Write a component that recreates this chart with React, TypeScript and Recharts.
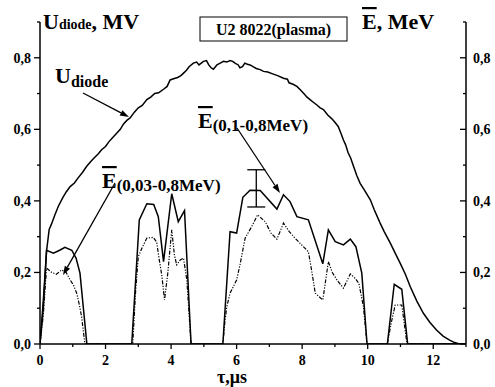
import React from "react";
import { ComposedChart, Line, Scatter, ErrorBar, XAxis, YAxis } from "recharts";

// U_diode, MV (left axis)
const uDiodeT = [0, 0.1, 0.2, 0.28, 0.35, 0.45, 0.56, 0.7, 0.8, 0.92, 1.05, 1.17, 1.3, 1.42, 1.55, 1.65, 1.78, 1.88, 2.0, 2.1, 2.22, 2.34, 2.45, 2.55, 2.65, 2.75, 2.88, 3.0, 3.12, 3.26, 3.38, 3.5, 3.62, 3.77, 3.88, 3.97, 4.1, 4.2, 4.3, 4.38, 4.47, 4.55, 4.68, 4.78, 4.85, 4.99, 5.08, 5.15, 5.22, 5.29, 5.4, 5.5, 5.6, 5.7, 5.8, 5.88, 5.95, 6.05, 6.1, 6.18, 6.25, 6.33, 6.41, 6.5, 6.6, 6.72, 6.82, 6.95, 7.1, 7.25, 7.43, 7.55, 7.6, 7.72, 7.84, 7.95, 8.05, 8.15, 8.24, 8.35, 8.45, 8.55, 8.65, 8.78, 8.9, 9.0, 9.1, 9.18, 9.26, 9.33, 9.4, 9.48, 9.57, 9.67, 9.77, 9.9, 10.08, 10.2, 10.38, 10.5, 10.69, 10.85, 10.99, 11.15, 11.3, 11.5, 11.7, 11.9, 12.1, 12.3, 12.5, 12.65, 12.8];
const uDiodeV = [0, 0.12, 0.26, 0.32, 0.335, 0.36, 0.385, 0.41, 0.425, 0.44, 0.45, 0.465, 0.48, 0.496, 0.51, 0.52, 0.532, 0.543, 0.552, 0.565, 0.577, 0.589, 0.6, 0.615, 0.625, 0.632, 0.648, 0.66, 0.667, 0.683, 0.69, 0.7, 0.702, 0.712, 0.72, 0.738, 0.742, 0.745, 0.75, 0.757, 0.765, 0.775, 0.785, 0.788, 0.78, 0.79, 0.792, 0.78, 0.772, 0.768, 0.78, 0.785, 0.79, 0.788, 0.792, 0.79, 0.785, 0.78, 0.772, 0.775, 0.785, 0.782, 0.78, 0.775, 0.77, 0.767, 0.762, 0.76, 0.755, 0.75, 0.743, 0.74, 0.73, 0.726, 0.72, 0.71, 0.7, 0.69, 0.683, 0.675, 0.668, 0.66, 0.655, 0.64, 0.63, 0.62, 0.608, 0.59, 0.57, 0.556, 0.535, 0.52, 0.496, 0.47, 0.449, 0.43, 0.403, 0.375, 0.338, 0.315, 0.282, 0.252, 0.226, 0.195, 0.16, 0.12, 0.086, 0.06, 0.039, 0.022, 0.011, 0.004, 0];

// E mean (0,1-0,8 MeV), MeV (right axis) - solid
const eHighT = [0, 0.1, 0.2, 0.41, 0.6, 0.76, 0.97, 1.1, 1.22, 1.43, 2.8, 3.03, 3.26, 3.47, 3.61, 3.77, 4.02, 4.22, 4.41, 4.61, 5.58, 5.8, 6.0, 6.19, 6.41, 6.72, 7.23, 7.43, 7.63, 7.84, 8.19, 8.63, 8.8, 9.01, 9.26, 9.47, 9.64, 9.82, 9.98, 10.6, 10.81, 11.04, 11.22, 13];
const eHighV = [0, 0.1, 0.262, 0.254, 0.262, 0.27, 0.262, 0.24, 0.198, 0, 0, 0.347, 0.392, 0.39, 0.356, 0.23, 0.42, 0.342, 0.373, 0, 0, 0.314, 0.31, 0.41, 0.43, 0.429, 0.377, 0.417, 0.398, 0.356, 0.347, 0.224, 0.319, 0.286, 0.277, 0.293, 0.272, 0.198, 0, 0, 0.167, 0.153, 0, 0];

// E mean (0,03-0,8 MeV), MeV (right axis) - dash-dot
const eLowT = [0, 0.1, 0.2, 0.36, 0.5, 0.66, 0.8, 0.92, 1.02, 1.12, 1.2, 1.27, 1.37, 2.83, 2.92, 3.0, 3.12, 3.26, 3.46, 3.56, 3.64, 3.72, 3.8, 3.9, 4.02, 4.1, 4.17, 4.28, 4.38, 4.48, 4.61, 5.58, 5.64, 5.7, 5.8, 6.0, 6.1, 6.26, 6.46, 6.64, 6.87, 7.05, 7.23, 7.43, 7.6, 7.74, 7.95, 8.19, 8.3, 8.4, 8.63, 8.8, 8.92, 9.06, 9.26, 9.47, 9.6, 9.73, 9.87, 9.98, 10.6, 10.72, 10.84, 11.04, 11.2, 13];
const eLowV = [0, 0.08, 0.212, 0.2, 0.195, 0.207, 0.2, 0.179, 0.165, 0.142, 0.11, 0.076, 0, 0, 0.15, 0.244, 0.27, 0.296, 0.298, 0.285, 0.235, 0.19, 0.123, 0.198, 0.319, 0.25, 0.221, 0.235, 0.24, 0.179, 0, 0, 0.06, 0.104, 0.142, 0.179, 0.22, 0.296, 0.328, 0.361, 0.342, 0.31, 0.293, 0.338, 0.315, 0.3, 0.28, 0.258, 0.2, 0.142, 0.123, 0.23, 0.2, 0.179, 0.156, 0.196, 0.185, 0.17, 0.104, 0, 0, 0.06, 0.109, 0.109, 0, 0];

// error bar on the solid curve
const errT = [6.6];
const errV = [0.435];
const errSize = [0.052];

const yTicks = [0, 0.1, 0.2, 0.3, 0.4, 0.5, 0.6, 0.7, 0.8, 0.9];
const xTicks = [0, 1, 2, 3, 4, 5, 6, 7, 8, 9, 10, 11, 12, 13];

const uDiode = uDiodeT.map((x, i) => ({ x, y: uDiodeV[i] }));
const eHigh = eHighT.map((x, i) => ({ x, y: eHighV[i] }));
const eLow = eLowT.map((x, i) => ({ x, y: eLowV[i] }));
const errData = errT.map((x, i) => ({ x, y: errV[i], err: errSize[i] }));

const FONT = '"Liberation Serif", "Times New Roman", Times, serif';
const txt: React.CSSProperties = { fontFamily: FONT, fontWeight: 700 };

const isMajorY = (v: number) => Math.round(v * 10) % 2 === 0 && v < 0.85;
const fmt = (v: number) => v.toFixed(1).replace(".", ",");

function LeftTick(props: any) {
  const { x, y, payload } = props;
  const major = isMajorY(payload.value);
  return (
    <g>
      <line x1={x - (major ? 6 : 3)} x2={x} y1={y} y2={y} stroke="#000" strokeWidth={1.3} />
      {major && (
        <text x={x - 9} y={y + 5} textAnchor="end" style={{ ...txt, fontSize: 14 }} fill="#000">
          {fmt(payload.value)}
        </text>
      )}
    </g>
  );
}

// the right axis in the original has its ticks turned inwards
function RightTick(props: any) {
  const { x, y, payload } = props;
  const major = isMajorY(payload.value);
  return (
    <g>
      <line x1={x - (major ? 6 : 3)} x2={x} y1={y} y2={y} stroke="#000" strokeWidth={1.3} />
      {major && (
        <text x={x + 7} y={y + 5} textAnchor="start" style={{ ...txt, fontSize: 14 }} fill="#000">
          {fmt(payload.value)}
        </text>
      )}
    </g>
  );
}

function BottomTick(props: any) {
  const { x, y, payload } = props;
  const v = payload.value;
  const major = v % 2 === 0 && v < 13;
  return (
    <g>
      <line x1={x} x2={x} y1={y} y2={y + (major ? 5 : 3)} stroke="#000" strokeWidth={1.3} />
      {major && (
        <text x={x} y={y + 21} textAnchor="middle" style={{ ...txt, fontSize: 14 }} fill="#000">
          {v}
        </text>
      )}
    </g>
  );
}

function Arrow({ x1, y1, x2, y2 }: { x1: number; y1: number; x2: number; y2: number }) {
  const dx = x2 - x1;
  const dy = y2 - y1;
  const len = Math.sqrt(dx * dx + dy * dy);
  const ux = dx / len;
  const uy = dy / len;
  const bx = x2 - ux * 9;
  const by = y2 - uy * 9;
  const pts = `${x2},${y2} ${bx - uy * 3},${by + ux * 3} ${bx + uy * 3},${by - ux * 3}`;
  return (
    <g>
      <line x1={x1} y1={y1} x2={bx} y2={by} stroke="#000" strokeWidth={1.3} />
      <polygon points={pts} fill="#000" />
    </g>
  );
}

export default function App() {
  return (
    <div style={{ position: "relative", width: 495, height: 387, background: "#fff" }}>
      <style>{`body{margin:0}`}</style>
      <ComposedChart width={495} height={387} margin={{ top: 22, right: 0, bottom: 0, left: 0 }}>
        <XAxis
          dataKey="x"
          type="number"
          domain={[0, 13]}
          ticks={xTicks}
          interval={0}
          height={43}
          tickSize={0}
          tickMargin={0}
          tickLine={false}
          tick={<BottomTick />}
          axisLine={{ stroke: "#000", strokeWidth: 1.5 }}
          allowDataOverflow
        />
        <YAxis
          yAxisId="l"
          type="number"
          domain={[0, 0.9]}
          ticks={yTicks}
          interval={0}
          width={40}
          tickSize={0}
          tickMargin={0}
          tickLine={false}
          tick={<LeftTick />}
          axisLine={{ stroke: "#000", strokeWidth: 1.5 }}
          allowDataOverflow
        />
        <YAxis
          yAxisId="r"
          orientation="right"
          type="number"
          domain={[0, 0.9]}
          ticks={yTicks}
          interval={0}
          width={29}
          tickSize={0}
          tickMargin={0}
          tickLine={false}
          tick={<RightTick />}
          axisLine={{ stroke: "#000", strokeWidth: 1.5 }}
          allowDataOverflow
        />
        <Line yAxisId="l" data={uDiode} dataKey="y" type="linear" stroke="#000" strokeWidth={1.5} dot={false} isAnimationActive={false} />
        <Line yAxisId="r" data={eLow} dataKey="y" type="linear" stroke="#000" strokeWidth={1.2} strokeDasharray="4 1.5 1.2 1.5 1.2 1.5" dot={false} isAnimationActive={false} />
        <Line yAxisId="r" data={eHigh} dataKey="y" type="linear" stroke="#000" strokeWidth={1.5} dot={false} isAnimationActive={false} />
        <Scatter yAxisId="r" data={errData} dataKey="y" shape={() => <g />} isAnimationActive={false}>
          <ErrorBar dataKey="err" direction="y" width={9} stroke="#000" strokeWidth={1.3} isAnimationActive={false} />
        </Scatter>
      </ComposedChart>
      <svg width={495} height={387} style={{ position: "absolute", left: 0, top: 0, pointerEvents: "none" }}>
        <g style={txt} fill="#000">
          <text x={43} y={29}>
            <tspan fontSize={22}>U</tspan>
            <tspan fontSize={14}>diode</tspan>
            <tspan fontSize={22}>, MV</tspan>
          </text>
          <rect x={200} y={17} width={147} height={24} fill="#fff" stroke="#000" strokeWidth={1} />
          <text x={273.5} y={35} fontSize={16} textAnchor="middle">U2 8022(plasma)</text>
          <text x={362} y={29} fontSize={22}>
            <tspan textDecoration="overline">E</tspan>
            <tspan>, MeV</tspan>
          </text>
          <text x={55} y={83}>
            <tspan fontSize={22}>U</tspan>
            <tspan fontSize={16} dy={4}>diode</tspan>
          </text>
          <text x={198} y={128}>
            <tspan fontSize={22} textDecoration="overline">E</tspan>
            <tspan fontSize={17} dy={3}>(0,1-0,8MeV)</tspan>
          </text>
          <text x={102} y={188}>
            <tspan fontSize={22} textDecoration="overline">E</tspan>
            <tspan fontSize={17} dy={3}>(0,03-0,8MeV)</tspan>
          </text>
          <text x={217} y={383} fontSize={18}>τ,μs</text>
        </g>
        <Arrow x1={83} y1={93} x2={129} y2={117} />
        <Arrow x1={237} y1={128} x2={280} y2={193} />
        <Arrow x1={115} y1={183} x2={63} y2={275} />
      </svg>
    </div>
  );
}
